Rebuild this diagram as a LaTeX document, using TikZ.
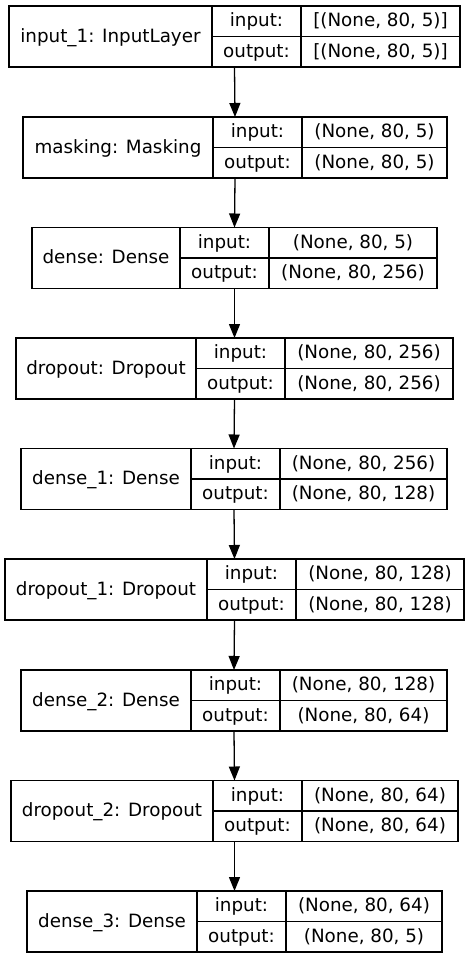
\documentclass[tikz,border=0pt]{standalone}
\usepackage{fontspec}
\setmainfont{DejaVu Sans}
\usetikzlibrary{arrows.meta}
\tikzset{
  record/.style={draw, line width=1.3pt, outer sep=0pt, inner sep=0pt, minimum height=61pt},
  cell/.style={font=\fontsize{18.3}{22}\selectfont, inner sep=0pt, text height=13pt, text depth=2pt},
  flow/.style={line width=1.3pt, -{Triangle[length=14pt,width=11pt]}},
}
% \layer{name}{top}{left}{div1}{div2}{right}{label}{input}{output}
\newcommand{\layer}[9]{%
  \pgfmathsetmacro\recw{#6-#3}%
  \node[record, minimum width=\recw pt, anchor=north west] (#1) at (#3,#2) {};
  \draw[line width=1.3pt] (#4,#2) -- ++(0,61) (#5,#2) -- ++(0,61)
    (#4,#2+30.5) -- (#6,#2+30.5);
  \node[cell] (#1l) at ({(#3+#4)/2},#2+30.5) {#7};
  \node[cell] (#1i) at ({(#4+#5)/2},#2+15.25) {input:};
  \node[cell] (#1o) at ({(#4+#5)/2},#2+45.75) {output:};
  \node[cell] (#1iv) at ({(#5+#6)/2},#2+15.25) {#8};
  \node[cell] (#1ov) at ({(#5+#6)/2},#2+45.75) {#9};
}
\begin{document}
\begin{tikzpicture}[x=1pt, y=-1pt]
  \useasboundingbox (0,0) rectangle (469,959);
  \layer{inp}{6}{9}{212}{301}{460}{input\_1: InputLayer}{[(None, 80, 5)]}{[(None, 80, 5)]}
  \layer{mask}{117}{23}{213}{302}{447}{masking: Masking}{(None, 80, 5)}{(None, 80, 5)}
  \layer{dns}{227.5}{32}{180}{269}{437}{dense: Dense}{(None, 80, 5)}{(None, 80, 256)}
  \layer{drop}{338}{16}{196}{285}{453}{dropout: Dropout}{(None, 80, 256)}{(None, 80, 256)}
  \layer{dnsa}{448.5}{21}{191}{280}{447}{dense\_1: Dense}{(None, 80, 256)}{(None, 80, 128)}
  \layer{dropa}{559}{5}{207}{296}{464}{dropout\_1: Dropout}{(None, 80, 128)}{(None, 80, 128)}
  \layer{dnsb}{670}{21}{191}{280}{447}{dense\_2: Dense}{(None, 80, 128)}{(None, 80, 64)}
  \layer{dropb}{780.5}{11}{213}{302}{458}{dropout\_2: Dropout}{(None, 80, 64)}{(None, 80, 64)}
  \layer{dnsc}{891}{27}{197}{286}{442}{dense\_3: Dense}{(None, 80, 64)}{(None, 80, 5)}
  \draw[flow] (inp.south) -- (mask.north);
  \draw[flow] (mask.south) -- (dns.north);
  \draw[flow] (dns.south) -- (drop.north);
  \draw[flow] (drop.south) -- (dnsa.north);
  \draw[flow] (dnsa.south) -- (dropa.north);
  \draw[flow] (dropa.south) -- (dnsb.north);
  \draw[flow] (dnsb.south) -- (dropb.north);
  \draw[flow] (dropb.south) -- (dnsc.north);
\end{tikzpicture}
\end{document}
